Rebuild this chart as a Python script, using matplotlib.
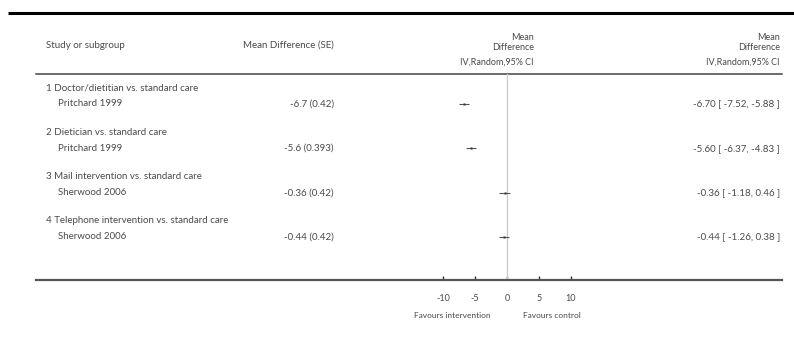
import matplotlib.pyplot as plt
import matplotlib as mlp

# forest plot data: one study per subgroup
subgroups = ['1 Doctor/dietitian vs. standard care',
             '2 Dietician vs. standard care',
             '3 Mail intervention vs. standard care',
             '4 Telephone intervention vs. standard care']
studies = ['Pritchard 1999', 'Pritchard 1999', 'Sherwood 2006', 'Sherwood 2006']
md = [-6.7, -5.6, -0.36, -0.44]
se_text = ['0.42', '0.393', '0.42', '0.42']
ci_lo = [-7.52, -6.37, -1.18, -1.26]
ci_hi = [-5.88, -4.83, 0.46, 0.38]
xticks = [-10, -5, 0, 5, 10]

W, H = 794, 352
txt = '#4a4a4a'
mlp.rcParams['font.family'] = ['Lato', 'DejaVu Sans']
mlp.rcParams['font.size'] = 7

fig = plt.figure(figsize=(W/100, H/100), dpi=100)

# background axes in pixel units for the table text and rules
bg = fig.add_axes([0, 0, 1, 1])
bg.set_xlim(0, W)
bg.set_ylim(H, 0)
bg.axis('off')

bg.plot([8, W], [13, 13], color='black', lw=2.2, solid_capstyle='butt')
bg.plot([36, 782], [74, 74], color='#444444', lw=1.1)

bg.text(46, 45, 'Study or subgroup', color=txt, va='center')
bg.text(334, 45, 'Mean Difference (SE)', color=txt, va='center', ha='right')
for x in (534, 780):
    bg.text(x, 37, 'Mean', color=txt, va='center', ha='right', fontsize=6.5)
    bg.text(x, 47, 'Difference', color=txt, va='center', ha='right', fontsize=6.5)
    bg.text(x, 62, 'IV,Random,95% CI', color=txt, va='center', ha='right', fontsize=6.5)

row0, step = 104, 44.3
for i in range(len(studies)):
    y = row0 + i*step
    bg.text(46, y - 16, subgroups[i], color=txt, va='center')
    bg.text(58, y, studies[i], color=txt, va='center')
    bg.text(334, y, '%g (%s)' % (md[i], se_text[i]), color=txt, va='center', ha='right')
    bg.text(780, y, '%.2f [ %.2f, %.2f ]' % (md[i], ci_lo[i], ci_hi[i]),
            color=txt, va='center', ha='right')

# forest axes: zero at x=507 px, 6.4 px per unit, rows in index units
x0, scale = 507, 6.4
left, right, top, bottom = 36, 782, 74, 280
ax = fig.add_axes([left/W, 1 - bottom/H, (right-left)/W, (bottom-top)/H])
ax.set_xlim((left - x0)/scale, (right - x0)/scale)
ax.set_ylim((bottom - row0)/step, (top - row0)/step)
ax.patch.set_alpha(0)
for s in ('top', 'left', 'right'):
    ax.spines[s].set_visible(False)
ax.spines['bottom'].set_color('#555555')
ax.spines['bottom'].set_linewidth(1.6)
ax.set_yticks([])
ax.set_xticks(xticks)
ax.set_xticklabels(['%d' % t for t in xticks])
ax.tick_params(axis='x', direction='in', length=3, width=1, color='#333333',
               labelsize=6.5, labelcolor=txt, pad=10)
ax.axvline(0, color='#cccccc', lw=1)

rows = list(range(len(md)))
ax.hlines(rows, ci_lo, ci_hi, color='#555555', lw=0.8)
ax.plot(md, rows, 's', color='#333333', ms=1.6, mec='none')

bg.text(452, 315, 'Favours intervention', color=txt, va='center', ha='center', fontsize=6)
bg.text(552, 315, 'Favours control', color=txt, va='center', ha='center', fontsize=6)

fig.savefig('out.png', dpi=100)
